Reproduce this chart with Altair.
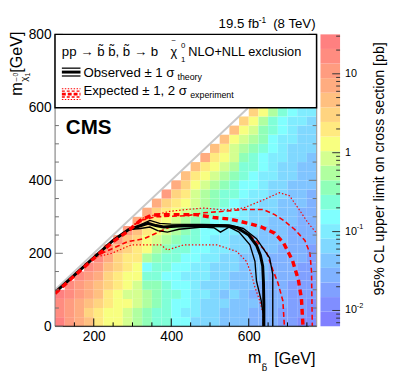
import altair as alt
import pandas as pd

FONT = "Liberation Sans"
W, H = 267, 298
X_DOMAIN = [100, 775]
Y_DOMAIN = [0, 800]
CB_DOMAIN = [10 ** -2.2, 10 ** 1.5]

# ---------------- heat map: 95% CL upper limit (pb) -----------------
# key = lower edge of the m_sbottom bin (25 GeV); list = limits for m_chi bins 0,25,50,... GeV
MSB_BINS = [100, 125, 150, 175, 200, 225, 250, 275, 300, 325, 350, 375, 400, 425,
            450, 475, 500, 525, 550, 575, 600, 625, 650, 675, 700, 725, 750]
UL = {
    100: [24, 14, 19, 26],
    125: [12, 10, 13, 17, 20],
    150: [7.5, 6.5, 8.0, 10, 12, 18],
    175: [4.5, 3.5, 5.0, 6.5, 7.5, 10, 16],
    200: [2.0, 2.2, 2.8, 4.0, 4.5, 6.5, 9.0, 15],
    225: [1.6, 1.3, 1.9, 2.1, 2.6, 3.0, 4.4, 6.0, 11],
    250: [1.2, 1.1, 1.3, 1.4, 1.8, 1.9, 2.5, 3.0, 5.5, 10],
    275: [0.85, 0.8, 1.2, 0.9, 1.2, 1.3, 1.9, 2.1, 3.0, 4.5, 10],
    300: [0.55, 0.6, 0.8, 0.8, 0.85, 1.2, 1.3, 1.9, 2.0, 3.0, 4.6, 7.0],
    325: [0.36, 0.38, 0.55, 0.5, 0.35, 0.2, 0.18, 0.5, 1.2, 1.3, 2.0, 3.2, 7.0],
    350: [0.23, 0.25, 0.36, 0.33, 0.3, 0.23, 0.22, 0.35, 0.55, 0.85, 1.3, 2.0, 3.0, 7.0],
    375: [0.23, 0.22, 0.24, 0.25, 0.22, 0.15, 0.22, 0.25, 0.36, 0.55, 0.85, 1.3, 2.0, 3.0, 11],
    400: [0.15, 0.14, 0.16, 0.22, 0.15, 0.15, 0.16, 0.23, 0.24, 0.36, 0.55, 0.85, 1.3, 2.0, 3.0, 7.0],
    425: [0.15, 0.10, 0.14, 0.15, 0.14, 0.10, 0.15, 0.15, 0.23, 0.24, 0.36, 0.55, 0.85, 1.3, 2.0, 3.0, 4.7],
    450: [0.066, 0.10, 0.10, 0.11, 0.10, 0.10, 0.10, 0.15, 0.15, 0.23, 0.23, 0.36, 0.55, 0.85, 0.85, 1.3, 2.0, 4.7],
    475: [0.066, 0.066, 0.07, 0.10, 0.066, 0.10, 0.10, 0.10, 0.15, 0.15, 0.15, 0.23, 0.36, 0.55, 0.55, 0.85, 1.3, 2.0, 7.0],
    500: [0.066, 0.06, 0.066, 0.065, 0.066, 0.07, 0.066, 0.10, 0.10, 0.10, 0.15, 0.15, 0.23, 0.36, 0.36, 0.55, 0.85, 1.3, 2.0, 4.7],
    525: [0.043, 0.045, 0.066, 0.043, 0.066, 0.066, 0.06, 0.066, 0.10, 0.10, 0.10, 0.15, 0.15, 0.23, 0.23, 0.36, 0.55, 0.85, 1.3, 2.0, 4.7],
    550: [0.043, 0.04, 0.043, 0.066, 0.043, 0.045, 0.066, 0.066, 0.066, 0.066, 0.10, 0.10, 0.15, 0.15, 0.23, 0.23, 0.36, 0.55, 0.85, 0.85, 1.3, 4.7],
    575: [0.043, 0.04, 0.043, 0.043, 0.045, 0.043, 0.043, 0.043, 0.066, 0.066, 0.066, 0.10, 0.10, 0.10, 0.15, 0.15, 0.23, 0.23, 0.36, 0.55, 0.85, 1.3, 3.0],
    600: [0.028, 0.03, 0.043, 0.028, 0.043, 0.043, 0.04, 0.043, 0.043, 0.045, 0.066, 0.066, 0.066, 0.10, 0.10, 0.15, 0.15, 0.23, 0.23, 0.36, 0.55, 0.85, 1.3, 3.0],
    625: [0.028, 0.027, 0.028, 0.03, 0.028, 0.043, 0.043, 0.04, 0.043, 0.043, 0.045, 0.066, 0.066, 0.066, 0.10, 0.10, 0.10, 0.15, 0.15, 0.23, 0.36, 0.36, 0.55, 1.3],
    650: [0.028, 0.028, 0.027, 0.028, 0.03, 0.028, 0.028, 0.03, 0.043, 0.043, 0.043, 0.045, 0.066, 0.066, 0.066, 0.07, 0.10, 0.10, 0.10, 0.15, 0.15, 0.23, 0.23, 0.55],
    675: [0.018, 0.019, 0.028, 0.028, 0.027, 0.028, 0.028, 0.03, 0.028, 0.043, 0.043, 0.043, 0.045, 0.043, 0.066, 0.066, 0.066, 0.07, 0.10, 0.10, 0.10, 0.15, 0.15, 0.23],
    700: [0.018, 0.018, 0.017, 0.018, 0.019, 0.028, 0.028, 0.028, 0.03, 0.028, 0.028, 0.043, 0.043, 0.043, 0.045, 0.043, 0.066, 0.066, 0.066, 0.07, 0.10, 0.10, 0.10, 0.15],
    725: [0.012, 0.018, 0.018, 0.017, 0.018, 0.019, 0.018, 0.028, 0.028, 0.028, 0.03, 0.028, 0.028, 0.043, 0.043, 0.043, 0.045, 0.043, 0.066, 0.066, 0.066, 0.07, 0.10, 0.10],
    750: [0.012, 0.012, 0.011, 0.018, 0.018, 0.017, 0.018, 0.018, 0.019, 0.028, 0.028, 0.028, 0.03, 0.028, 0.028, 0.043, 0.043, 0.043, 0.045, 0.066, 0.066, 0.066, 0.07, 0.10],
}
BIN = 25

# colour palette of the z axis (bottom -> top), 20 steps in log10 between CB_DOMAIN
PALETTE = ["#8080ff", "#808eff", "#80a0ff", "#80b2ff", "#80c4ff", "#80d8ff", "#80ecff",
           "#80ffff", "#80ffd8", "#90ffb8", "#b0ffa0", "#d4ff90", "#f8ff80", "#ffea80",
           "#ffd480", "#ffc080", "#ffac80", "#ff9c80", "#ff8c80", "#ff8080"]

# ---------------- contours (m_sbottom, m_chi) -----------------
OBS = [(100, 93), (150, 140), (200, 188), (250, 235), (290, 265), (320, 275), (340, 282),
       (360, 276), (380, 272), (420, 275), (480, 276), (540, 275), (570, 270), (600, 250),
       (620, 222), (630, 195), (636, 165), (638, 120), (639, 60), (639, 0)]
OBS_UP = [(290, 265), (320, 278), (345, 290), (370, 282), (400, 280), (480, 279), (550, 278),
          (586, 268), (620, 240), (654, 187), (662, 142), (662, 60), (662, 0)]
OBS_DN = [(290, 265), (320, 268), (345, 272), (365, 262), (390, 258), (420, 266), (480, 272),
          (510, 270), (527, 258), (550, 272), (575, 258), (603, 223), (616, 178), (620, 124),
          (632, 71), (637, 35), (637, 0)]
EXP = [(100, 90), (150, 138), (200, 186), (250, 232), (290, 262), (320, 290), (350, 305),
       (400, 306), (464, 306), (510, 298), (550, 294), (600, 282), (633, 272), (667, 255),
       (690, 228), (713, 180), (728, 128), (736, 75), (740, 0)]
EXP_UP = [(290, 265), (320, 290), (360, 300), (441, 303), (484, 311), (535, 315), (586, 320),
          (637, 320), (667, 306), (690, 290), (718, 266), (745, 235), (758, 200), (762, 150),
          (764, 0)]
EXP_DN = [(200, 190), (246, 212), (288, 232), (330, 240), (396, 272), (450, 278), (510, 278),
          (561, 272), (603, 250), (645, 205), (662, 155), (675, 120), (688, 70), (692, 0)]
EXP_UP2 = [(290, 268), (329, 298), (396, 315), (440, 320), (484, 324), (535, 319), (586, 324),
           (637, 346), (679, 366), (705, 358), (730, 320), (752, 285), (775, 255)]
EXP_DN2 = [(200, 188), (246, 200), (297, 223), (373, 223), (390, 209), (432, 223), (518, 223),
           (569, 205), (594, 178), (607, 142), (616, 107), (628, 71), (637, 35), (637, 0)]

X_LABELS = [200, 400, 600]
Y_LABELS = [0, 200, 400, 600, 800]
X_MINOR = [150, 250, 300, 350, 450, 500, 550, 650, 700, 750]
Y_MINOR = [50, 100, 150, 250, 300, 350, 450, 500, 550, 650, 700, 750]
CB_MAJOR = [0.01, 0.1, 1, 10]
CB_MINOR = [0.007, 0.008, 0.009, 0.02, 0.03, 0.04, 0.05, 0.06, 0.07, 0.08, 0.09,
            0.2, 0.3, 0.4, 0.5, 0.6, 0.7, 0.8, 0.9, 2, 3, 4, 5, 6, 7, 8, 9, 20, 30]
CB_LABELS = [("10", "", 10), ("1", "", 1), ("10", "-1", 0.1), ("10", "-2", 0.01)]

# ---------------- build tables -----------------
rows = []
for msb in MSB_BINS:
    for j, v in enumerate(UL[msb]):
        rows.append({"msb": msb, "msb2": msb + BIN, "mchi": j * BIN, "mchi2": (j + 1) * BIN, "ul": v})
heat_df = pd.DataFrame(rows)

lo, hi = -2.2, 1.5
step = (hi - lo) / len(PALETTE)
thresholds = [10 ** (lo + k * step) for k in range(1, len(PALETTE))]
cb_df = pd.DataFrame({"lo": [10 ** (lo + k * step) for k in range(len(PALETTE))],
                      "hi": [10 ** (lo + (k + 1) * step) for k in range(len(PALETTE))],
                      "col": PALETTE})

one = pd.DataFrame({"a": [0]})

xs = alt.Scale(domain=X_DOMAIN, nice=False, zero=False)
ys = alt.Scale(domain=Y_DOMAIN, nice=False, zero=False)

heat = alt.Chart(heat_df).mark_rect(strokeWidth=0).encode(
    x=alt.X("msb:Q", scale=xs, title=None,
            axis=alt.Axis(values=X_LABELS, ticks=False, domain=False, grid=False, labelFont=FONT,
                          labelFontSize=14, labelPadding=4, labelColor="black", format="d")),
    x2="msb2:Q",
    y=alt.Y("mchi:Q", scale=ys, title=None,
            axis=alt.Axis(values=Y_LABELS, ticks=False, domain=False, grid=False, labelFont=FONT,
                          labelFontSize=14, labelPadding=4, labelColor="black", format="d")),
    y2="mchi2:Q",
    color=alt.Color("ul:Q", scale=alt.Scale(type="threshold", domain=thresholds, range=PALETTE),
                    legend=None),
)

diag = alt.Chart(pd.DataFrame({"msb": [100, 598], "mchi": [100, 598]})).mark_line(
    color="#c8c8c8", strokeWidth=2, clip=True).encode(x=alt.X("msb:Q", scale=xs), y=alt.Y("mchi:Q", scale=ys))


def contour(pts, color, width, dash=None):
    df = pd.DataFrame({"msb": [p[0] for p in pts], "mchi": [p[1] for p in pts],
                       "i": list(range(len(pts)))})
    kw = dict(color=color, strokeWidth=width, clip=True)
    if dash:
        kw["strokeDash"] = dash
    return alt.Chart(df).mark_line(**kw).encode(
        x=alt.X("msb:Q", scale=xs), y=alt.Y("mchi:Q", scale=ys), order="i:Q")


lines = [
    contour(EXP_DN2, "#ff0000", 1.2, [1.5, 2]),
    contour(EXP_UP2, "#ff0000", 1.2, [1.5, 2]),
    contour(EXP_DN, "#ff0000", 1.6, [5, 3]),
    contour(EXP_UP, "#ff0000", 1.6, [5, 3]),
    contour(OBS_DN, "black", 1.4),
    contour(OBS_UP, "black", 1.4),
    contour(OBS, "black", 3),
    contour(EXP, "#ff0000", 3.5, [6, 4]),
]


def rule(**enc):
    color = enc.pop("color", "black")
    width = enc.pop("width", 1)
    return alt.Chart(one).mark_rule(color=color, strokeWidth=width).encode(**enc)


def vals_rule(values, field_ch, color, **enc):
    df = pd.DataFrame({"v": values})
    if field_ch == "x":
        return alt.Chart(df).mark_rule(color=color, strokeWidth=1).encode(x=alt.X("v:Q", scale=xs), **enc)
    return alt.Chart(df).mark_rule(color=color, strokeWidth=1).encode(y=alt.Y("v:Q", scale=ys), **enc)


axes = [
    rule(x=alt.value(0), y=alt.value(0), y2=alt.value(H), color="#808080"),
    rule(x=alt.value(W), y=alt.value(0), y2=alt.value(H), color="#a0a0a0"),
    rule(x=alt.value(0), x2=alt.value(W), y=alt.value(H), color="black"),
    vals_rule(X_LABELS, "x", "black", y=alt.value(H), y2=alt.value(H - 8)),
    vals_rule(X_MINOR, "x", "black", y=alt.value(H), y2=alt.value(H - 4)),
    vals_rule(Y_LABELS, "y", "#707070", x=alt.value(0), x2=alt.value(8)),
    vals_rule(Y_MINOR, "y", "#707070", x=alt.value(0), x2=alt.value(4)),
    vals_rule(Y_LABELS, "y", "#707070", x=alt.value(W), x2=alt.value(W - 8)),
    vals_rule(Y_MINOR, "y", "#707070", x=alt.value(W), x2=alt.value(W - 4)),
]


def text(txt, x, y, size=13, weight="normal", align="left", angle=0, color="black"):
    return alt.Chart(one).mark_text(text=txt, font=FONT, fontSize=size, fontWeight=weight,
                                    align=align, baseline="alphabetic", angle=angle,
                                    color=color).encode(x=alt.value(x), y=alt.value(y))


legend = [
    alt.Chart(one).mark_rect(fill="white", stroke="black", strokeWidth=1.5).encode(
        x=alt.value(0), x2=alt.value(W), y=alt.value(0), y2=alt.value(75)),
    text("pp \u2192 b\u0303 b\u0303, b\u0303 \u2192 b", 7, 22, 13.5),
    text("\u03c7", 118, 22, 13),
    text("~", 121, 8.5, 8, align="center"),
    text("0", 128.5, 14, 8),
    text("1", 128.5, 28, 8),
    text("NLO+NLL exclusion", 136, 22, 13),
    rule(x=alt.value(7), x2=alt.value(26), y=alt.value(34.5), width=1.3),
    rule(x=alt.value(7), x2=alt.value(26), y=alt.value(38.5), width=3),
    rule(x=alt.value(7), x2=alt.value(26), y=alt.value(42.5), width=1.3),
    text("Observed \u00b1 1 \u03c3", 29, 44, 13.5),
    text("theory", 125, 47, 9),
    alt.Chart(one).mark_rule(color="#ff0000", strokeWidth=1.2, strokeDash=[1.5, 1.5]).encode(
        x=alt.value(7), x2=alt.value(26), y=alt.value(55.5)),
    alt.Chart(one).mark_rule(color="#ff0000", strokeWidth=1.4, strokeDash=[3, 2]).encode(
        x=alt.value(7), x2=alt.value(26), y=alt.value(58)),
    alt.Chart(one).mark_rule(color="#ff0000", strokeWidth=3, strokeDash=[4, 2]).encode(
        x=alt.value(7), x2=alt.value(26), y=alt.value(61)),
    alt.Chart(one).mark_rule(color="#ff0000", strokeWidth=1.4, strokeDash=[3, 2]).encode(
        x=alt.value(7), x2=alt.value(26), y=alt.value(64)),
    alt.Chart(one).mark_rule(color="#ff0000", strokeWidth=1.2, strokeDash=[1.5, 1.5]).encode(
        x=alt.value(7), x2=alt.value(26), y=alt.value(66.5)),
    text("Expected \u00b1 1, 2 \u03c3", 29, 62, 13.5),
    text("experiment", 138, 65, 9),
]

titles = [
    text("CMS", 11, 102, 21, weight="bold"),
    text("19.5 fb", 167, -7, 13.5),
    text("-1", 208, -12, 8.5),
    text("(8 TeV)", 266, -7, 13.5, align="right"),
    # x title
    text("m", 197, 336, 16.5),
    text("b\u0303", 211, 344, 10),
    text("[GeV]", 266, 337, 16.5, align="right"),
    # y title (rotated, reads bottom to top)
    text("[GeV]", -34, -3, 16.5, align="right", angle=270),
    text("\u03c7", -29, 43, 10, align="right", angle=270),
    text("~", -37, 46, 8, align="center", angle=270),
    text("1", -26, 39, 7, align="right", angle=270),
    text("0", -38, 39, 7, align="right", angle=270),
    text("m", -34, 49, 16.5, align="right", angle=270),
    # z title
    text("95% CL upper limit on cross section [pb]", 336, 8, 14.5, align="right", angle=270),
]

main = alt.layer(heat, diag, *lines, *axes, *legend, *titles)

cbs = alt.Scale(type="log", domain=CB_DOMAIN, nice=False, zero=False)
cb_rect = alt.Chart(cb_df).mark_rect(strokeWidth=0).encode(
    x=alt.value(271), x2=alt.value(291),
    y=alt.Y("lo:Q", scale=cbs, axis=None), y2="hi:Q",
    color=alt.Color("col:N", scale=None, legend=None))
cb_major = alt.Chart(pd.DataFrame({"v": CB_MAJOR})).mark_rule(color="#333333").encode(
    x=alt.value(283), x2=alt.value(291), y=alt.Y("v:Q", scale=cbs, axis=None))
cb_minor = alt.Chart(pd.DataFrame({"v": CB_MINOR})).mark_rule(color="#333333").encode(
    x=alt.value(287), x2=alt.value(291), y=alt.Y("v:Q", scale=cbs, axis=None))
cb_lab_df = pd.DataFrame({"base": [c[0] for c in CB_LABELS], "exp": [c[1] for c in CB_LABELS],
                          "v": [c[2] for c in CB_LABELS]})
cb_lab = alt.Chart(cb_lab_df).mark_text(font=FONT, fontSize=11, align="left", baseline="middle").encode(
    x=alt.value(296), y=alt.Y("v:Q", scale=cbs, axis=None), text="base:N")
cb_exp = alt.Chart(cb_lab_df).mark_text(font=FONT, fontSize=7.5, align="left", baseline="middle", dy=-5).encode(
    x=alt.value(308), y=alt.Y("v:Q", scale=cbs, axis=None), text="exp:N")
cbar = alt.layer(cb_rect, cb_major, cb_minor, cb_lab, cb_exp)

chart = alt.layer(main, cbar).resolve_scale(y="independent", color="independent").properties(
    width=W, height=H,
    padding={"left": 48, "top": 23, "right": 76, "bottom": 54},
    autosize=alt.AutoSizeParams(type="none"),
).configure_view(stroke=None).configure(background="white")

chart.save("out.html", embed_options={"renderer": "svg", "actions": False})
